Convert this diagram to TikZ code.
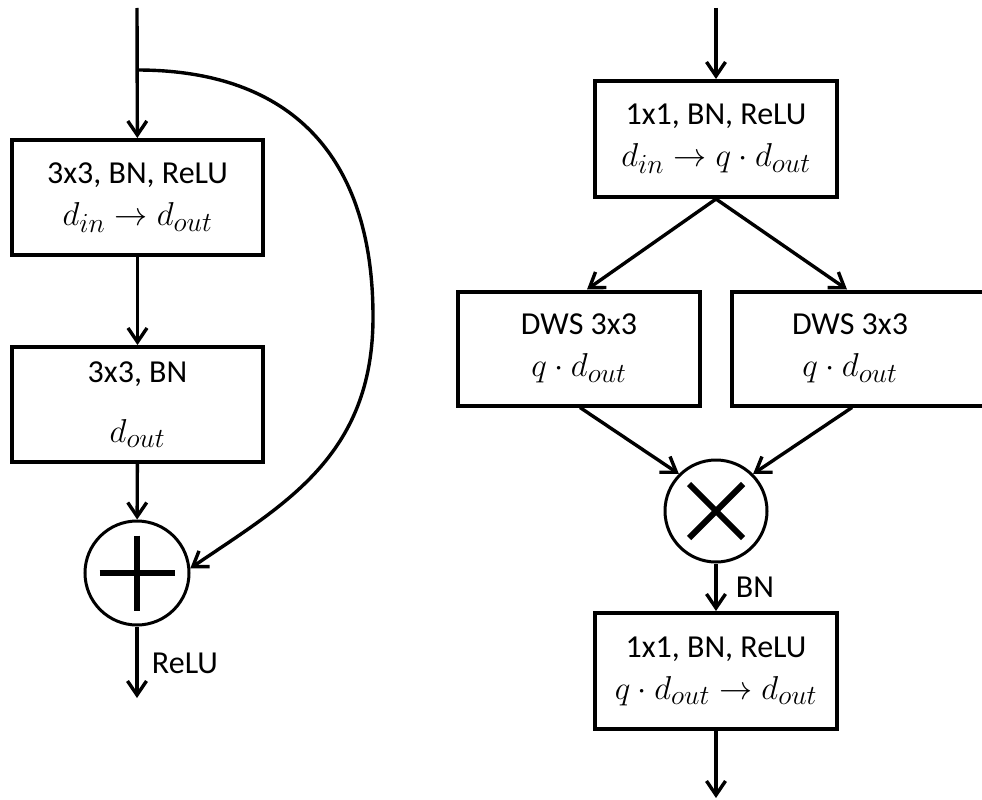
\documentclass[tikz,border=0pt]{standalone}
\usepackage{fontspec}
\setmainfont{Carlito}
\usetikzlibrary{arrows.meta}
\newcommand{\mathln}[1]{\scalebox{1.33}{$#1$}}
\begin{document}
\begin{tikzpicture}[x=1pt,y=-1pt,
  line width=3.4pt,
  arr/.style={-{Straight Barb[length=14pt,width=19pt]}},
  box/.style={draw, line width=4pt, rectangle, align=center, inner sep=0pt, font=\fontsize{32}{42}\selectfont},
  op/.style={draw, circle, line width=3pt, minimum size=104pt, inner sep=0pt},
  sym/.style={line width=6pt},
  lbl/.style={font=\fontsize{32}{38}\selectfont, inner sep=0pt}
]
\clip (0,0) rectangle (982,800);
% left block
\coordinate (in1) at (137,8);
\coordinate (split) at (137,70);
\node[box, minimum width=251pt, minimum height=115pt] (b1) at (137.5,197.5) {3x3, BN, ReLU\\\mathln{d_{in}\rightarrow d_{out}}};
\node[box, minimum width=251pt, minimum height=115pt] (b2) at (137.5,404.5) {3x3, BN\\[18pt]\mathln{d_{out}}};
\node[op] (add) at (137,573) {};
\draw[sym] (add.center) ++(-37.5,0) -- ++(75,0);
\draw[sym] (add.center) ++(0,-37.5) -- ++(0,75);
\coordinate (out1) at (137,698);
\node[lbl] (relu) at (185,663) {ReLU};
\draw[arr] (in1) -- (b1);
\draw[arr] (b1) -- (b2);
\draw[arr] (b2) -- (add);
\draw[arr] (add) -- (out1);
\draw[arr] (split) .. controls (291.5,70) and (373,156.5) .. (373,317) .. controls (373,457) and (283,505) .. (add.5);
% right block
\coordinate (in2) at (716,8);
\node[box, minimum width=242pt, minimum height=116pt] (b3) at (716,139) {1x1, BN, ReLU\\\mathln{d_{in}\rightarrow q\cdot d_{out}}};
\node[box, minimum width=242pt, minimum height=114pt] (b4) at (579,348.5) {DWS 3x3\\\mathln{q\cdot d_{out}}};
\node[box, minimum width=252pt, minimum height=114pt] (b5) at (858,348.5) {DWS 3x3\hspace*{16pt}\\\mathln{q\cdot d_{out}}\hspace*{16pt}};
\node[op, minimum size=102pt] (mul) at (716,511) {};
\draw[sym] (mul.center) ++(-27,-27) -- ++(54,54);
\draw[sym] (mul.center) ++(27,-27) -- ++(-54,54);
\node[box, minimum width=242pt, minimum height=116pt] (b6) at (716,671) {1x1, BN, ReLU\\\mathln{q\cdot d_{out}\rightarrow d_{out}}};
\coordinate (out2) at (716,798);
\node[lbl] (bn) at (755,587) {BN};
\draw[arr] (in2) -- (b3);
\draw[arr] (b3.south) -- ([xshift=8pt]b4.north);
\draw[arr] (b3.south) -- ([xshift=-11pt]b5.north);
\draw[arr] ([xshift=1pt]b4.south) -- (mul.135);
\draw[arr] ([xshift=-6pt]b5.south) -- (mul.45);
\draw[arr] (mul) -- (b6);
\draw[arr] (b6) -- (out2);
\end{tikzpicture}
\end{document}
